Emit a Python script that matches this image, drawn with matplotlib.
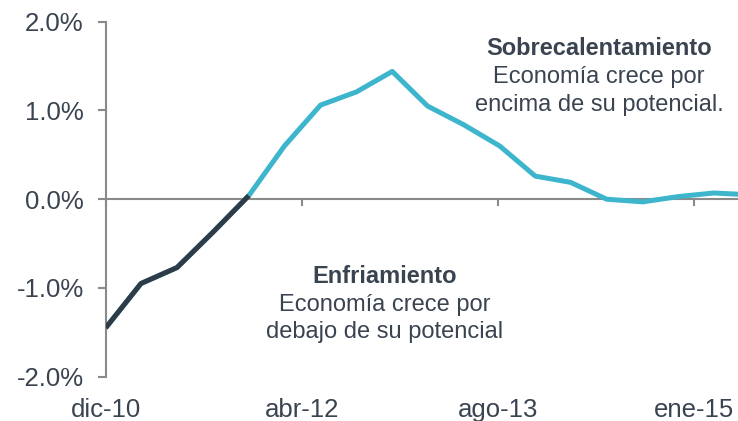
import matplotlib
matplotlib.use("Agg")
import matplotlib.pyplot as plt
import matplotlib.dates as mdates
import numpy as np
import pandas as pd
from matplotlib.ticker import FuncFormatter

plt.rcParams.update({
    "font.family": ["Liberation Sans", "DejaVu Sans"],
})

# quarterly output gap (%), dic-10 .. jun-15
dates = pd.date_range("2010-12-01", periods=19, freq="QS-DEC")
gap = [-1.45, -0.95, -0.77, -0.37, 0.04, 0.60, 1.06, 1.21, 1.44, 1.05,
       0.84, 0.60, 0.26, 0.19, 0.00, -0.03, 0.03, 0.07, 0.05]
n_cooling = 5  # points drawn in the dark colour (up to the zero crossing)

tick_labels = ["dic-10", "abr-12", "ago-13", "ene-15"]
tick_step_days = 500
y_ticks = [-2, -1, 0, 1, 2]

DARK = "#2f3b47"
TEAL = "#3db5cc"
TEXT = "#3a4450"
GREY = "#8a8a8a"

x = mdates.date2num(dates)
x0 = x[0]
x_ticks = x0 + np.arange(len(tick_labels)) * tick_step_days

fig = plt.figure(figsize=(7.38, 4.21), dpi=100)
ax = fig.add_axes([0.1432, 0.1052, 0.8568, 0.8432])

ax.plot(x, gap, color=TEAL, linewidth=3.6, solid_joinstyle="round",
        solid_capstyle="butt", zorder=3)
ax.plot(x[:n_cooling], gap[:n_cooling], color=DARK, linewidth=3.6,
        solid_joinstyle="round", solid_capstyle="butt", zorder=4)

ax.set_xlim(x0, x0 + 1613)
ax.set_ylim(-2, 2)

for side in ["top", "right"]:
    ax.spines[side].set_visible(False)
ax.spines["left"].set_color(GREY)
ax.spines["left"].set_linewidth(1.5)
ax.spines["bottom"].set_position(("data", 0))
ax.spines["bottom"].set_color(GREY)
ax.spines["bottom"].set_linewidth(1.5)

ax.set_yticks(y_ticks)
ax.yaxis.set_major_formatter(FuncFormatter(lambda v, p: f"{v:.1f}%"))
ax.tick_params(axis="y", direction="out", length=5.8, width=1.5, color=GREY,
               labelsize=18.5, labelcolor=TEXT, pad=10)

ax.set_xticks(x_ticks)
ax.tick_params(axis="x", direction="out", length=5, width=1.5, color=GREY,
               labelbottom=False)

sec = ax.secondary_xaxis("bottom")
sec.spines["bottom"].set_visible(False)
sec.set_xticks(x_ticks, tick_labels)
sec.tick_params(axis="x", length=0, labelsize=18.5, labelcolor=TEXT, pad=15)

# region notes
ax.text(0.780, 0.906, "Sobrecalentamiento", transform=ax.transAxes,
        ha="center", va="baseline", fontsize=17, fontweight="bold", color=TEXT)
ax.text(0.780, 0.8265, "Economía crece por", transform=ax.transAxes,
        ha="center", va="baseline", fontsize=17, color=TEXT)
ax.text(0.780, 0.7485, "encima de su potencial.", transform=ax.transAxes,
        ha="center", va="baseline", fontsize=17, color=TEXT)

ax.text(0.4417, 0.264, "Enfriamiento", transform=ax.transAxes,
        ha="center", va="baseline", fontsize=17, fontweight="bold", color=TEXT)
ax.text(0.4417, 0.185, "Economía crece por", transform=ax.transAxes,
        ha="center", va="baseline", fontsize=17, color=TEXT)
ax.text(0.4417, 0.109, "debajo de su potencial", transform=ax.transAxes,
        ha="center", va="baseline", fontsize=17, color=TEXT)

fig.savefig("out.png", dpi=100)
